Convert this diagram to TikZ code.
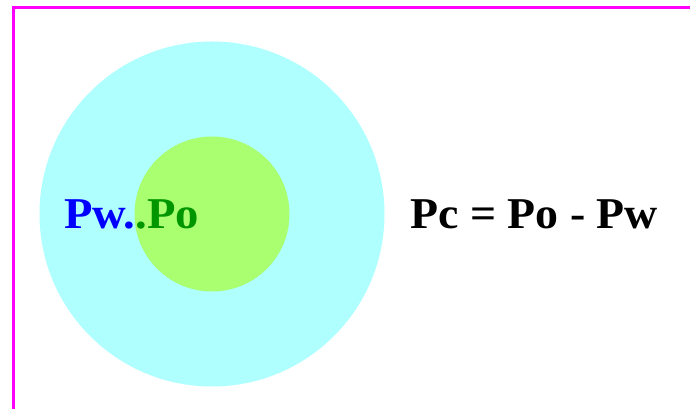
\documentclass[tikz,border=0pt]{standalone}
\usepackage{fontspec}
\setmainfont{Liberation Serif}
\definecolor{outercyan}{RGB}{175,255,255}
\definecolor{innergreen}{RGB}{170,255,112}
\definecolor{textblue}{RGB}{0,0,255}
\definecolor{textgreen}{RGB}{0,150,0}
\definecolor{framemag}{RGB}{255,0,255}
\begin{document}
\begin{tikzpicture}[x=1pt,y=1pt,
  lbl/.style={inner sep=0pt,anchor=base west,transform shape,font=\fontsize{44}{48}\selectfont\bfseries}]
\useasboundingbox (0,0) rectangle (690,409);
\fill[white] (0,0) rectangle (690,409);
\draw[framemag,line width=3pt] (13.5,0) -- (13.5,401) -- (690,401);
\fill[outercyan] (212,195) circle[radius=172.5];
\fill[innergreen] (212,195) circle[radius=77.5];
\node[lbl,xscale=1.06] (pwpo) at (64,180) {\textcolor{textblue}{Pw.}\textcolor{textgreen}{.Po}};
\node[lbl,xscale=1.042] (eq) at (410,180) {Pc = Po - Pw};
\end{tikzpicture}
\end{document}
